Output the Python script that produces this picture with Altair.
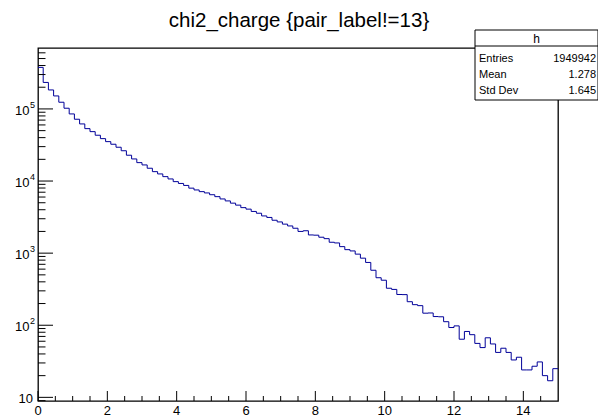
import altair as alt
import pandas as pd

# ---- data ----
bin_width = 0.15
counts = [377000, 233100, 183400, 151500, 123800, 102300, 85250, 71970, 61940, 53310,
          48440, 43170, 38730, 35200, 32390, 29430, 26320, 22800, 20250, 18000,
          16730, 15050, 13500, 12550, 11510, 10690, 9810, 9260, 8690, 7970,
          7525, 7130, 6840, 6460, 6075, 5645, 5300, 4937, 4632, 4277,
          4077, 3787, 3576, 3281, 3127, 2860, 2709, 2525, 2384, 2215,
          2000, 2045, 1788, 1775, 1662, 1589, 1416, 1385, 1231, 1118,
          1073, 969, 852, 743, 579, 456, 421, 326, 314, 267,
          266, 212, 193, 187, 147, 148, 132, 131, 112, 93,
          98, 64, 82, 74, 56, 49, 67, 55, 42, 48,
          42, 33, 36, 24, 24, 27, 31, 20, 17, 25]
x_major = [0, 2, 4, 6, 8, 10, 12, 14]
x_minor = [0.5, 1, 1.5, 2.5, 3, 3.5, 4.5, 5, 5.5, 6.5, 7, 7.5, 8.5, 9, 9.5,
           10.5, 11, 11.5, 12.5, 13, 13.5, 14.5]
y_major = [10, 100, 1000, 10000, 100000]
y_exp = ["", "2", "3", "4", "5"]
y_minor = [9, 20, 30, 40, 50, 60, 70, 80, 90, 200, 300, 400, 500, 600, 700, 800, 900,
           2000, 3000, 4000, 5000, 6000, 7000, 8000, 9000,
           20000, 30000, 40000, 50000, 60000, 70000, 80000, 90000,
           200000, 300000, 400000, 500000, 600000]
title_text = "chi2_charge {pair_label!=13}"
stat_name = "h"
stat_labels = ["Entries", "Mean", "Std Dev"]
stat_values = ["1949942", "1.278", "1.645"]

W, H = 520, 353
FONT = "Liberation Sans"

xscale = alt.Scale(domain=[0, 15], nice=False, zero=False)
yscale = alt.Scale(type="log", domain=[8.9, 7.0e5], nice=False)

# step line
xs = [i * bin_width for i in range(len(counts))] + [15.0]
ys = counts + [counts[-1]]
hist = pd.DataFrame({"x": xs, "y": ys})

line = alt.Chart(hist).mark_line(interpolate="step-after", color="#000099", strokeWidth=1).encode(
    x=alt.X("x:Q", scale=xscale, axis=None),
    y=alt.Y("y:Q", scale=yscale, axis=None),
)

xmaj = pd.DataFrame({"t": x_major, "lab": [str(v) for v in x_major]})
xmin = pd.DataFrame({"t": x_minor})
ymaj = pd.DataFrame({"v": y_major, "e": y_exp})
ymin = pd.DataFrame({"v": y_minor})

xmaj_ticks = alt.Chart(xmaj).mark_rule(color="black", strokeWidth=1).encode(
    x=alt.X("t:Q", scale=xscale, axis=None), y=alt.value(H), y2=alt.value(H - 10))
xmin_ticks = alt.Chart(xmin).mark_rule(color="black", strokeWidth=1).encode(
    x=alt.X("t:Q", scale=xscale, axis=None), y=alt.value(H), y2=alt.value(H - 5))
xlabels = alt.Chart(xmaj).mark_text(font=FONT, fontSize=13, align="center", baseline="alphabetic").encode(
    x=alt.X("t:Q", scale=xscale, axis=None), y=alt.value(H + 14), text="lab:N")

ymaj_ticks = alt.Chart(ymaj).mark_rule(color="black", strokeWidth=1).encode(
    y=alt.Y("v:Q", scale=yscale, axis=None), x=alt.value(0), x2=alt.value(15))
ymin_ticks = alt.Chart(ymin).mark_rule(color="black", strokeWidth=1).encode(
    y=alt.Y("v:Q", scale=yscale, axis=None), x=alt.value(0), x2=alt.value(7.5))

ylab_ten = alt.Chart(ymaj).transform_filter("datum.e != ''").mark_text(
    font=FONT, fontSize=13, align="right", baseline="middle", dy=2).encode(
    y=alt.Y("v:Q", scale=yscale, axis=None), x=alt.value(-8.5), text=alt.value("10"))
ylab_exp = alt.Chart(ymaj).transform_filter("datum.e != ''").mark_text(
    font=FONT, fontSize=9, align="left", baseline="middle", dy=-4).encode(
    y=alt.Y("v:Q", scale=yscale, axis=None), x=alt.value(-8), text="e:N")
ylab_10 = alt.Chart(ymaj).transform_filter("datum.e == ''").mark_text(
    font=FONT, fontSize=13, align="right", baseline="middle", dy=2).encode(
    y=alt.Y("v:Q", scale=yscale, axis=None), x=alt.value(-5), text=alt.value("10"))

one = pd.DataFrame({"a": [0]})
title = alt.Chart(one).mark_text(font=FONT, fontSize=20.5, align="center", baseline="alphabetic").encode(
    x=alt.value(W / 2 + 1), y=alt.value(-21.5), text=alt.value(title_text))

BX0, BX1 = 437, 560
box = alt.Chart(one).mark_rect(fill="white", stroke="black", strokeWidth=1).encode(
    x=alt.value(BX0), x2=alt.value(BX1), y=alt.value(-18), y2=alt.value(52))
box_line = alt.Chart(one).mark_rule(color="black", strokeWidth=1).encode(
    x=alt.value(BX0), x2=alt.value(BX1), y=alt.value(-2))
box_name = alt.Chart(one).mark_text(font=FONT, fontSize=12, align="center", baseline="alphabetic").encode(
    x=alt.value((BX0 + BX1) / 2), y=alt.value(-5), text=alt.value(stat_name))

stat_layers = []
for i, (lab, val) in enumerate(zip(stat_labels, stat_values)):
    yb = 14 + 16 * i
    stat_layers.append(alt.Chart(one).mark_text(font=FONT, fontSize=11, align="left", baseline="alphabetic").encode(
        x=alt.value(BX0 + 4), y=alt.value(yb), text=alt.value(lab)))
    stat_layers.append(alt.Chart(one).mark_text(font=FONT, fontSize=11, align="right", baseline="alphabetic").encode(
        x=alt.value(BX1 - 2), y=alt.value(yb), text=alt.value(val)))

chart = alt.layer(
    line, xmaj_ticks, xmin_ticks, xlabels, ymaj_ticks, ymin_ticks,
    ylab_ten, ylab_exp, ylab_10, title, box, box_line, box_name, *stat_layers
).properties(
    width=W, height=H,
    padding={"left": 30, "top": 40, "right": 40, "bottom": 16},
    autosize=alt.AutoSizeParams(type="none"),
    background="white",
).configure_view(stroke="black", strokeWidth=1.3)

chart.save("out.html", embed_options={"renderer": "svg", "actions": False})
